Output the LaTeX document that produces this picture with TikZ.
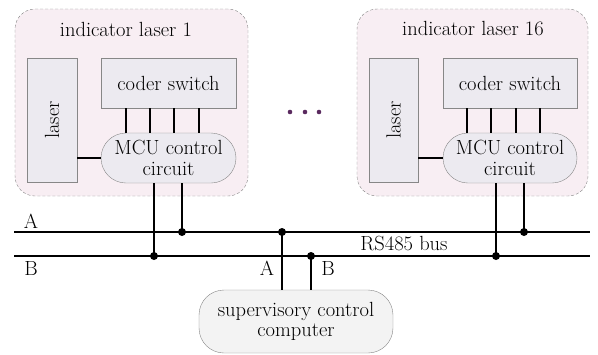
\documentclass[tikz,border=0pt]{standalone}
\usepackage{tikz}
\usetikzlibrary{calc}
\definecolor{unitpink}{RGB}{248,238,243}
\definecolor{partgray}{RGB}{236,234,240}
\definecolor{pcgray}{RGB}{243,243,243}
\definecolor{edgegray}{RGB}{135,135,135}
\definecolor{dotpurple}{RGB}{90,42,95}
\newcommand{\txtsize}{\fontsize{20.5}{20.5}\selectfont}
\tikzset{>=latex}
\tikzset{
  unitbox/.style = {draw = edgegray, dash pattern = on 3pt off 2pt, fill = unitpink,
    rounded corners = 20pt, minimum width = 233pt, minimum height = 187pt},
  partbox/.style = {draw = edgegray, fill = partgray, inner sep = 0pt, font = \txtsize},
  mcubox/.style = {partbox, rounded corners = 25pt, align = center,
    minimum width = 135pt, minimum height = 50pt},
  wire/.style = {line width = 1.8pt},
  bus/.style = {line width = 2pt},
  tap/.style = {circle, fill = black, inner sep = 0pt, minimum size = 8pt},
  lbl/.style = {font = \txtsize, inner sep = 0pt}
}

\begin{document}
\begin{tikzpicture}[x = 1pt, y = -1pt]
\useasboundingbox (0, 0) rectangle (598, 354);

% first indicator laser
\node[unitbox] (unit1) at (131.5, 102.5) {};
\node[lbl] (title1) at (126, 29) {indicator laser 1};
\node[partbox, minimum width = 50pt, minimum height = 124pt] (laser1) at (52, 120)
  {\rotatebox{90}{laser}};
\node[partbox, minimum width = 135pt, minimum height = 50pt] (coder1) at (168.5, 83) {coder switch};
\node[mcubox] (mcu1) at (168.5, 158) {MCU control\\circuit};
\draw[wire] ([xshift = 25pt] coder1.south west) -- ([xshift = 25pt] coder1.south west |- mcu1.north);
\draw[wire] ([xshift = 49pt] coder1.south west) -- ([xshift = 49pt] coder1.south west |- mcu1.north);
\draw[wire] ([xshift = 73pt] coder1.south west) -- ([xshift = 73pt] coder1.south west |- mcu1.north);
\draw[wire] ([xshift = 98pt] coder1.south west) -- ([xshift = 98pt] coder1.south west |- mcu1.north);
\draw[wire] (laser1.east |- mcu1.west) -- (mcu1.west);

% last indicator laser
\node[unitbox, minimum width = 231pt] (unit16) at (472.5, 102.5) {};
\node[lbl] (title16) at (473, 29) {indicator laser 16};
\node[partbox, minimum width = 49pt, minimum height = 124pt] (laser16) at (393.5, 120)
  {\rotatebox{90}{laser}};
\node[partbox, minimum width = 134pt, minimum height = 50pt] (coder16) at (510, 83) {coder switch};
\node[mcubox, minimum width = 134pt] (mcu16) at (510, 158) {MCU control\\circuit};
\draw[wire] ([xshift = 24pt] coder16.south west) -- ([xshift = 24pt] coder16.south west |- mcu16.north);
\draw[wire] ([xshift = 48pt] coder16.south west) -- ([xshift = 48pt] coder16.south west |- mcu16.north);
\draw[wire] ([xshift = 73pt] coder16.south west) -- ([xshift = 73pt] coder16.south west |- mcu16.north);
\draw[wire] ([xshift = 97pt] coder16.south west) -- ([xshift = 97pt] coder16.south west |- mcu16.north);
\draw[wire] (laser16.east |- mcu16.west) -- (mcu16.west);

% the lasers in between
\fill[dotpurple] (290, 112) circle (2.3) (305, 112) circle (2.3) (319, 112) circle (2.3);

% RS485 bus lines
\coordinate (busAw) at (14, 232);
\coordinate (busAe) at (590, 232);
\coordinate (busBw) at (14, 256);
\coordinate (busBe) at (590, 256);
\draw[bus] (busAw) -- (busAe);
\draw[bus] (busBw) -- (busBe);
\node[lbl] (nameA) at (31, 221) {A};
\node[lbl] (nameB) at (31, 268) {B};
\node[lbl] (busname) at (404, 243) {RS485 bus};

% supervisory computer
\node[partbox, fill = pcgray, rounded corners = 25pt, align = center,
  minimum width = 194pt, minimum height = 63pt] (pc) at (296, 321.5) {supervisory control\\computer};
\node[lbl] (pcA) at (267, 268) {A};
\node[lbl] (pcB) at (328, 268) {B};

% taps onto the bus
\coordinate (dropB1) at ($(mcu1.south) + (-14.5, 0)$);
\coordinate (dropA1) at ($(mcu1.south) + (13.5, 0)$);
\coordinate (dropB16) at ($(mcu16.south) + (-14, 0)$);
\coordinate (dropA16) at ($(mcu16.south) + (14, 0)$);
\coordinate (riseA) at ($(pc.north) + (-14, 0)$);
\coordinate (riseB) at ($(pc.north) + (15, 0)$);
\node[tap] (tapB1) at (dropB1 |- busBw) {};
\node[tap] (tapA1) at (dropA1 |- busAw) {};
\node[tap] (tapB16) at (dropB16 |- busBw) {};
\node[tap] (tapA16) at (dropA16 |- busAw) {};
\node[tap] (tapApc) at (riseA |- busAw) {};
\node[tap] (tapBpc) at (riseB |- busBw) {};
\draw[wire] (dropB1) -- (tapB1.center);
\draw[wire] (dropA1) -- (tapA1.center);
\draw[wire] (dropB16) -- (tapB16.center);
\draw[wire] (dropA16) -- (tapA16.center);
\draw[wire] (tapApc.center) -- (riseA);
\draw[wire] (tapBpc.center) -- (riseB);
\end{tikzpicture}
\end{document}
